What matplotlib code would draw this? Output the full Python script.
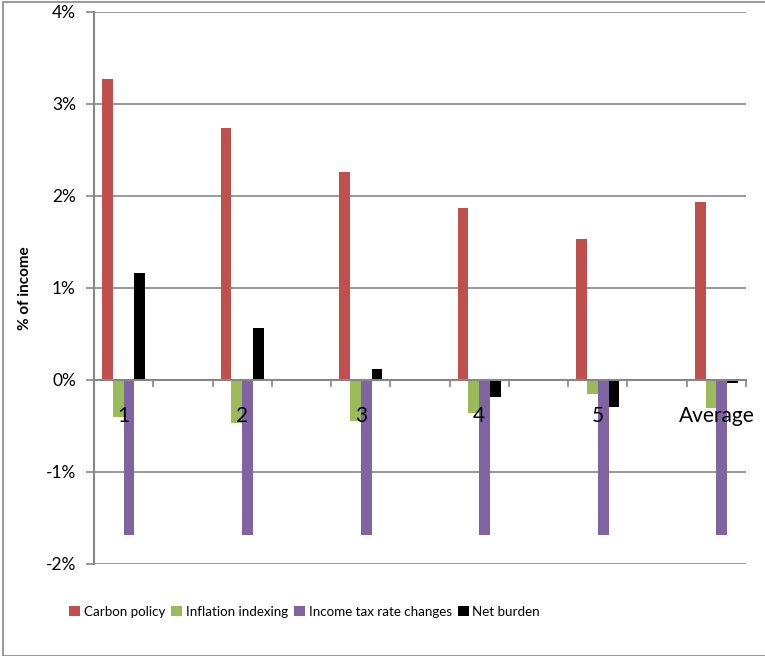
import numpy as np
import matplotlib.pyplot as plt
from matplotlib.patches import Rectangle
from matplotlib.ticker import FuncFormatter

categories = ["1", "2", "3", "4", "5", "Average"]
carbon_policy = [3.27, 2.74, 2.26, 1.87, 1.53, 1.94]
inflation_indexing = [-0.40, -0.47, -0.45, -0.36, -0.15, -0.30]
income_tax_changes = [-1.68, -1.68, -1.68, -1.68, -1.68, -1.68]
net_burden = [1.16, 0.56, 0.12, -0.18, -0.29, -0.03]

series = [
    ("Carbon policy", carbon_policy, "#C0504D"),
    ("Inflation indexing", inflation_indexing, "#9BBB59"),
    ("Income tax rate changes", income_tax_changes, "#8064A2"),
    ("Net burden", net_burden, "#000000"),
]

plt.rcParams["font.family"] = ["Lato", "DejaVu Sans"]

fig = plt.figure(figsize=(7.65, 6.56), dpi=100)
ax = fig.add_axes([94 / 765, 1 - 564 / 656, (746 - 94) / 765, (564 - 12) / 656])

# chart-area border (Excel style)
fig.patches.append(Rectangle((3 / 765, 0), 1.1, 1 - 2 / 656, transform=fig.transFigure,
                             fill=False, edgecolor="#888888", linewidth=1.2))

# each group sits on every other slot of an 11-slot category axis
centers = np.arange(len(categories)) * 2 + 0.5
w = 0.182
for i, (name, vals, color) in enumerate(series):
    ax.bar(centers + (i - 1.5) * w, vals, width=w, color=color, label=name, zorder=3)

ax.set_xlim(0, 11)
ax.set_ylim(-2, 4)
ax.set_yticks(range(-2, 5))
ax.yaxis.set_major_formatter(FuncFormatter(lambda v, p: f"{v:.0f}%"))
ax.grid(axis="y", color="#868686", linewidth=1.2)
ax.set_axisbelow(True)
ax.xaxis.set_zorder(4)  # category labels sit on top of the bars

for s in ["top", "right"]:
    ax.spines[s].set_visible(False)
ax.spines["left"].set_color("#868686")
ax.spines["left"].set_linewidth(1.5)
ax.spines["bottom"].set_position(("data", 0))
ax.spines["bottom"].set_color("#868686")
ax.spines["bottom"].set_linewidth(1.5)
ax.spines["bottom"].set_zorder(4)

ax.set_xticks(centers)
ax.set_xticklabels(categories, fontsize=15)
ax.set_xticks(np.arange(0, 12), minor=True)
ax.tick_params(axis="x", which="major", length=0, pad=19)
ax.tick_params(axis="x", which="minor", length=5, width=1.2, color="#868686", direction="out")
ax.tick_params(axis="y", length=6, width=1.2, color="#868686", labelsize=12.5, pad=7)

ax.set_ylabel("% of income", fontsize=11, fontweight="bold", labelpad=10)

handles, labels = ax.get_legend_handles_labels()
fig.legend(handles, labels, loc="center left", bbox_to_anchor=(64 / 765, 1 - 612 / 656),
           ncol=4, frameon=False, fontsize=9.6, handlelength=0.8, handleheight=0.8,
           handletextpad=0.3, columnspacing=0.45, borderaxespad=0)

fig.savefig("out.png", dpi=100)
